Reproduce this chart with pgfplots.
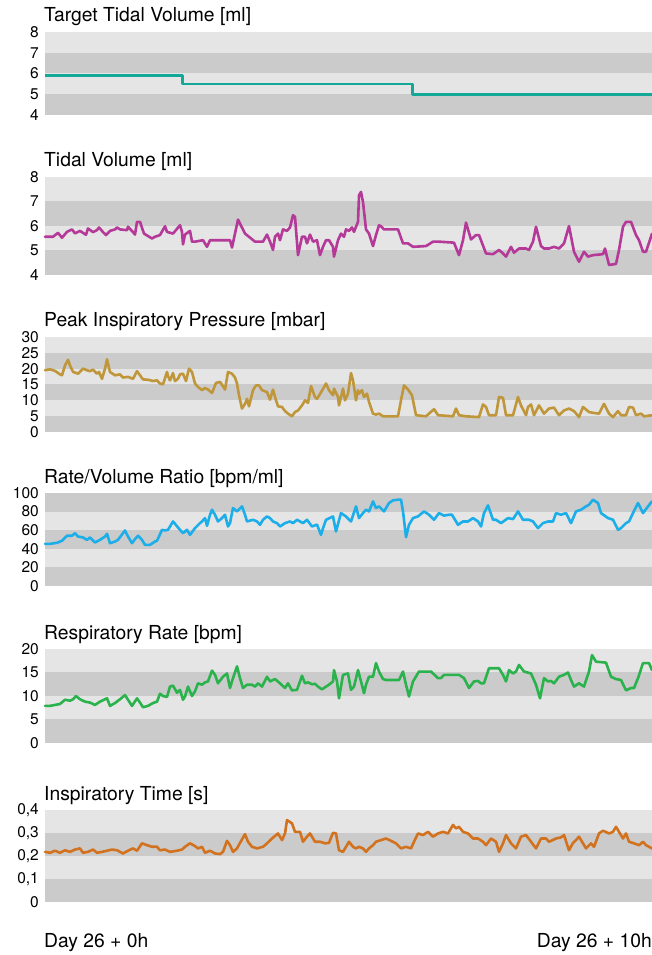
\documentclass[border=0pt]{standalone}
\usepackage{fontspec}
\setmainfont{TeX Gyre Heros}
\usepackage{pgfplots}
\pgfplotsset{compat=1.18}
\definecolor{bandL}{RGB}{229,229,229}
\definecolor{bandD}{RGB}{203,203,203}
\definecolor{cTeal}{RGB}{20,168,152}
\definecolor{cMag}{RGB}{181,57,152}
\definecolor{cGold}{RGB}{192,150,58}
\definecolor{cBlue}{RGB}{27,174,232}
\definecolor{cGreen}{RGB}{42,178,76}
\definecolor{cOrange}{RGB}{210,114,30}
\pgfplotsset{panel/.style={scale only axis, width=607pt, xmin=45, xmax=652,
  anchor=south west, axis line style={draw=none}, major tick length=0pt,
  xtick=\empty, tick label style={font=\fontsize{15.5}{17}\selectfont},
  yticklabel style={inner sep=0pt, xshift=-6pt},
  /pgf/number format/assume math mode=true, clip=false},
  series/.style={line width=2.6pt, line join=round, line cap=round}}
\begin{document}
\begin{tikzpicture}[x=1pt,y=1pt]
\tikzset{ttl/.style={anchor=base west, inner sep=0pt, font=\fontsize{19.3}{21}\selectfont}}
% ---------- Panel 1: Target Tidal Volume ----------
\begin{axis}[panel, at={(45pt,840pt)}, height=83pt, ymin=4, ymax=8, ytick={4,5,6,7,8}, yticklabels={4,5,6,7,8}]
\fill[bandD] (45,4) rectangle (652,5);
\fill[bandL] (45,5) rectangle (652,6);
\fill[bandD] (45,6) rectangle (652,7);
\fill[bandL] (45,7) rectangle (652,8);
\addplot[series, cTeal, line cap=butt] coordinates {(45,5.9) (182.7,5.9) (182.7,5.5) (412.7,5.5) (412.7,5.0) (652,5.0)};
\end{axis}
\node[ttl] at (44,933) {Target Tidal Volume [ml]};
% ---------- Panel 2: Tidal Volume ----------
\begin{axis}[panel, at={(45pt,680pt)}, height=98pt, ymin=4, ymax=8, ytick={4,5,6,7,8}, yticklabels={4,5,6,7,8}]
\fill[bandD] (45,4) rectangle (652,5);
\fill[bandL] (45,5) rectangle (652,6);
\fill[bandD] (45,6) rectangle (652,7);
\fill[bandL] (45,7) rectangle (652,8);
\addplot[series, cMag] coordinates {
(45,5.56) (53,5.56) (58,5.72) (62,5.52) (67,5.76) (72,5.86) (75,5.70) (80,5.80)
(86,5.64) (88,5.90) (93,5.75) (97,5.83) (99,5.94) (103,5.75) (106,5.63) (110,5.80)
(115,5.86) (117,5.94) (120,5.86) (127,5.83) (128,5.97) (133,5.75) (135,5.65) (137,6.17)
(140,6.17) (144,5.69) (152,5.49) (155,5.56) (160,5.63) (165,5.99) (167,5.76) (173,5.69)
(180,6.03) (182,5.76) (183,5.25) (185,5.65) (190,5.80) (192,5.36) (195,5.36) (203,5.42)
(207,5.15) (210,5.42) (230,5.42) (232,5.12) (238,6.26) (245,5.69) (255,5.36) (263,5.36)
(267,5.65) (270,5.36) (273,5.02) (275,5.56) (278,5.69) (280,5.42) (283,5.86) (287,5.80)
(290,5.94) (293,6.44) (295,6.37) (298,4.81) (302,5.56) (305,5.56) (307,5.29) (310,5.65)
(313,5.36) (317,5.42) (320,4.81) (323,5.15) (326,5.42) (329,5.42) (333,5.15) (334,4.75)
(338,5.42) (341,5.69) (344,5.56) (346,5.86) (349,5.80) (352,5.94) (354,5.76) (358,6.17)
(359,7.25) (361,7.39) (363,6.98) (366,5.86) (369,5.69) (373,5.18) (376,5.63) (379,6.03)
(381,5.99) (384,5.86) (398,5.86) (403,5.29) (408,5.29) (413,5.15) (426,5.18) (433,5.36)
(439,5.36) (454,5.32) (459,4.81) (463,5.42) (466,6.14) (471,5.45) (476,5.63) (479,5.63)
(486,4.88) (493,4.85) (499,5.02) (503,4.88) (506,4.75) (511,5.15) (514,4.91) (519,5.08)
(526,5.08) (529,5.02) (533,5.36) (536,5.97) (541,5.18) (544,5.08) (549,5.08) (554,5.15)
(559,5.08) (564,5.29) (569,6.00) (574,4.95) (579,4.54) (584,4.95) (588,4.75) (593,4.81)
(603,4.85) (605,5.08) (609,4.41) (616,4.45) (619,5.02) (623,5.97) (626,6.17) (631,6.17)
(636,5.63) (639,5.42) (643,4.95) (646,4.95) (652,5.69)};
\end{axis}
\node[ttl] at (44,788) {Tidal Volume [ml]};
% ---------- Panel 3: Peak Inspiratory Pressure ----------
\begin{axis}[panel, at={(45pt,523pt)}, height=95pt, ymin=0, ymax=30, ytick={0,5,10,15,20,25,30}, yticklabels={0,5,10,15,20,25,30}]
\fill[bandD] (45,0) rectangle (652,5);
\fill[bandL] (45,5) rectangle (652,10);
\fill[bandD] (45,10) rectangle (652,15);
\fill[bandL] (45,15) rectangle (652,20);
\fill[bandD] (45,20) rectangle (652,25);
\fill[bandL] (45,25) rectangle (652,30);
\addplot[series, cGold] coordinates {
(45,19.5) (50,19.8) (55,19.3) (60,18.2) (62,17.9) (65,21.0) (68,22.8) (70,21.0)
(73,19.0) (78,18.4) (83,20.0) (87,19.5) (90,19.2) (93,19.7) (97,18.4) (99,18.95)
(102,16.8) (105,20.0) (107,22.95) (110,18.95) (115,17.9) (120,18.2) (123,17.2) (128,17.4)
(133,16.8) (137,19.2) (140,17.9) (143,16.6) (148,16.5) (153,16.1) (157,16.3) (160,15.3)
(163,15.05) (167,18.95) (168,17.6) (170,16.3) (173,18.6) (175,16.1) (178,16.8) (180,18.2)
(183,18.4) (186,16.1) (189,20.0) (192,18.95) (195,15.3) (198,14.2) (202,13.2) (205,13.9)
(208,13.4) (212,12.3) (216,15.5) (220,15.8) (223,14.4) (225,13.4) (228,18.95) (232,18.4)
(235,17.2) (237,15.3) (239,11.6) (242,7.4) (245,8.9) (247,10.5) (249,8.1) (253,13.2)
(256,14.7) (259,14.7) (262,13.2) (267,12.6) (270,10.2) (273,13.4) (276,10.0) (278,8.1)
(282,7.9) (285,6.6) (288,5.8) (292,4.95) (295,6.3) (298,6.8) (302,8.4) (305,10)
(308,9.2) (311,14.5) (315,11.0) (317,10.5) (320,12.0) (325,14.7)
(326,15.3) (329,13.2) (333,11.6) (334,13.7) (338,11.05) (339,8.4) (343,13.7) (345,10.0)
(348,12.1) (351,18.6) (353,16.3) (356,10.0) (358,13.2) (359,12.1) (362,13.2) (364,11.05)
(367,12.1) (369,9.5) (373,5.8) (376,5.5) (379,5.8) (383,4.95) (398,4.95) (401,10)
(404,14.7) (408,13.4) (412,11.6) (416,5.3) (426,4.95) (429,5.8) (434,7.2) (438,5.3)
(453,4.95) (456,7.4) (459,5.3) (466,4.95) (479,4.7) (483,8.7) (486,7.9) (489,5.3)
(496,5.3) (499,11.05) (503,10.8) (506,5.3) (513,5.3) (518,11.05) (521,8.4) (526,5.3)
(528,7.9) (531,8.7) (534,5.3) (539,8.4) (544,5.8) (549,7.4) (554,7.7) (559,5.3)
(564,6.8) (569,7.4) (574,6.6) (579,4.7) (583,7.9) (589,6.3) (594,6.0) (599,5.8)
(604,8.9) (609,5.8) (613,4.7) (618,6.6) (621,5.3) (626,5.3) (629,7.9) (633,7.7)
(636,5.3) (641,5.8) (644,4.95) (652,5.3)};
\end{axis}
\node[ttl] at (44,628) {Peak Inspiratory Pressure [mbar]};
% ---------- Panel 4: Rate/Volume Ratio ----------
\begin{axis}[panel, at={(45pt,369pt)}, height=93pt, ymin=0, ymax=100, ytick={0,20,40,60,80,100}, yticklabels={0,20,40,60,80,100}]
\fill[bandD] (45,0) rectangle (652,20);
\fill[bandL] (45,20) rectangle (652,40);
\fill[bandD] (45,40) rectangle (652,60);
\fill[bandL] (45,60) rectangle (652,80);
\fill[bandD] (45,80) rectangle (652,100);
\addplot[series, cBlue] coordinates {
(45,45.3) (50,45.3) (57,46.5) (62,48.6) (67,54) (72,54) (75,56.8) (78,53.2)
(83,52.2) (87,49.6) (90,52.2) (95,46.8) (100,49.6) (105,53.2) (107,56.1) (110,46)
(115,47.8) (118,49.6) (125,59.7) (128,53.2) (132,46) (135,50.4) (138,54) (142,49.6)
(145,44.2) (150,44.2) (155,47.8) (157,48.6) (162,60.4) (165,59.7) (168,60.4) (172,67.6)
(173,69.4) (180,60.4) (183,56.8) (187,60.4) (190,55) (195,62.2) (200,67.6) (202,69.4)
(205,73) (207,64.7) (210,76.6) (212,82) (215,76.6) (218,69.4) (222,73) (225,76.6)
(228,64) (230,67.6) (233,83.8) (237,80.2) (242,85.6) (245,76.6) (247,69.4) (253,71.2)
(257,69.4) (260,65.8) (263,71.2) (267,74.8) (270,73) (273,69.4) (277,67.6) (280,64)
(285,67.6) (290,69.4) (293,67.6) (297,71.2) (303,67.6) (307,71.2) (312,64) (317,66)
(321,55) (323,62) (326,71.2) (333,74.8) (336,58.6) (341,78.4) (346,74.8) (351,69.4)
(356,85.6) (359,73) (363,78.4) (366,82) (369,80.2) (373,91) (376,83.8) (379,85.6)
(384,80.2) (389,89.2) (393,92.1) (398,92.8) (401,92.8) (403,80.2) (406,52.5) (409,65.8)
(413,73) (418,74.8) (424,80.2) (429,76.6) (434,71.2) (439,78.4) (444,75.7) (449,76.6)
(452,76.6) (458,65.8) (463,69.4) (468,69.4) (473,73) (478,69.4) (481,64) (484,78.4)
(488,86.7) (493,71.2) (496,71.2) (501,67.6) (508,73) (513,71.9) (518,80.2) (523,71.2)
(529,71.2) (533,69.4) (538,62.2) (543,67.6) (548,69.4) (553,69.4) (556,78.4) (561,76.6)
(566,78.4) (571,67.6) (576,80.2) (581,82) (586,85.6) (589,87.4) (593,92.8) (598,89.2)
(601,78.4) (608,73) (613,71.2) (618,60.4) (621,62.2) (626,67.6) (629,69.4) (633,78.4)
(638,89.2) (643,78.4) (648,85.6) (652,91)};
\end{axis}
\node[ttl] at (44,471) {Rate/Volume Ratio [bpm/ml]};
% ---------- Panel 5: Respiratory Rate ----------
\begin{axis}[panel, at={(45pt,212pt)}, height=94pt, ymin=0, ymax=20, ytick={0,5,10,15,20}, yticklabels={0,5,10,15,20}]
\fill[bandD] (45,0) rectangle (652,5);
\fill[bandL] (45,5) rectangle (652,10);
\fill[bandD] (45,10) rectangle (652,15);
\fill[bandL] (45,15) rectangle (652,20);
\addplot[series, cGreen] coordinates {
(45,7.9) (50,7.9) (55,8.1) (60,8.3) (65,9.2) (70,9.0) (73,9.3) (76,10.0)
(80,9.3) (85,8.8) (90,8.6) (95,8.1) (100,8.8) (105,9.3) (107,9.5) (110,7.9)
(115,8.5) (120,9.3) (125,10.2) (128,9.2) (132,7.9) (137,9.5) (140,8.6) (143,7.6)
(148,7.9) (153,8.5) (157,8.8) (160,10.5) (163,10.0) (167,9.8) (170,12.0) (173,12.2)
(177,10.7) (180,11.3) (183,9.2) (185,9.9) (188,12.0) (192,10.0) (195,11.0) (198,12.7)
(202,12.4) (205,12.9) (208,13.1) (212,15.4) (215,14.5) (218,12.7) (223,14.1) (227,14.8)
(230,11.7) (233,13.8) (237,16.3) (240,13.8) (243,11.7) (247,12.4) (252,12.4) (255,12.0)
(258,12.7) (262,12.0) (267,14.1) (270,13.1) (275,13.6) (280,12.7) (285,11.7) (288,12.7)
(292,11.2) (297,11.3) (302,14.3) (305,12.7) (308,12.9) (312,12.5) (315,12.6) (318,12.0)
(322,11.4) (326,12.0) (329,12.4) (333,13.1) (334,15.5) (337,13.1) (339,9.5) (343,14.5)
(348,14.8) (351,11.3) (354,12.0) (358,15.5) (361,13.1) (364,10.6) (366,12.4) (369,14.1)
(373,14.1) (376,17.0) (379,15.2) (383,13.6) (386,13.4) (399,13.4) (403,15.2) (406,12.4)
(409,9.9) (413,13.1) (419,15.2) (431,15.2) (438,13.8) (441,13.8) (444,14.5) (459,14.5)
(464,13.8) (469,11.7) (474,13.1) (478,13.2) (481,12.7) (484,12.7) (489,15.9) (499,15.9)
(503,14.5) (506,13.1) (509,15.5) (513,14.8) (516,15.2) (519,16.6) (524,15.2) (531,14.8)
(536,12.4) (540,9.5) (544,13.8) (548,13.1) (551,13.2) (554,12.7) (559,14.1) (564,14.5)
(568,15.0) (571,13.4) (574,12.0) (579,12.7) (584,12.0) (589,15.2) (592,18.7) (596,17.3)
(606,17.1) (611,14.1) (616,13.6) (621,13.4) (626,11.2) (631,11.7) (634,11.7) (638,13.8)
(643,17.0) (649,17.0) (652,15.5)};
\end{axis}
\node[ttl] at (44,315) {Respiratory Rate [bpm]};
% ---------- Panel 6: Inspiratory Time ----------
\begin{axis}[panel, at={(45pt,53pt)}, height=92pt, ymin=0, ymax=0.4, ytick={0,0.1,0.2,0.3,0.4}, yticklabels={0,{0,1},{0,2},{0,3},{0,4}}]
\fill[bandD] (45,0) rectangle (652,0.1);
\fill[bandL] (45,0.1) rectangle (652,0.2);
\fill[bandD] (45,0.2) rectangle (652,0.3);
\fill[bandL] (45,0.3) rectangle (652,0.4);
\addplot[series, cOrange] coordinates {
(45,0.218) (50,0.214) (55,0.223) (60,0.214) (65,0.225) (70,0.218) (75,0.228) (80,0.233)
(83,0.214) (88,0.218) (93,0.228) (97,0.214) (102,0.218) (107,0.223) (112,0.228) (117,0.225)
(123,0.211) (128,0.223) (133,0.233) (137,0.223) (142,0.255) (147,0.247) (152,0.240) (157,0.240)
(160,0.225) (165,0.228) (170,0.218) (177,0.223) (182,0.228) (185,0.240) (190,0.255) (195,0.243)
(198,0.233) (202,0.240) (205,0.214) (210,0.223) (215,0.211) (220,0.208) (223,0.218) (227,0.266)
(230,0.247) (233,0.218) (237,0.233) (240,0.257) (245,0.295) (248,0.262) (252,0.240) (257,0.233)
(263,0.240) (267,0.255) (272,0.276) (278,0.298) (282,0.269) (285,0.298) (287,0.356) (292,0.342)
(295,0.305) (300,0.305) (303,0.262) (307,0.284) (310,0.298) (315,0.262) (320,0.262) (325,0.255)
(329,0.257) (333,0.301) (336,0.298) (339,0.225) (343,0.218) (346,0.240) (349,0.262) (353,0.240)
(356,0.233) (359,0.240) (363,0.233) (366,0.218) (369,0.233) (373,0.247) (376,0.262) (381,0.269)
(386,0.276) (391,0.266) (396,0.255) (401,0.233) (406,0.240) (411,0.233) (414,0.262) (418,0.298)
(423,0.291) (428,0.305) (433,0.284) (438,0.298) (443,0.305) (448,0.298) (453,0.335) (456,0.320)
(459,0.327) (463,0.305) (468,0.298) (473,0.276) (478,0.276) (483,0.262) (486,0.247) (491,0.276)
(496,0.262) (499,0.218) (503,0.255) (506,0.291) (511,0.255) (516,0.233) (521,0.284) (526,0.291)
(531,0.262) (536,0.233) (541,0.276) (546,0.276) (549,0.262) (556,0.276) (561,0.281) (564,0.291)
(569,0.225) (573,0.257) (576,0.269) (579,0.284) (583,0.255) (586,0.233) (591,0.255) (594,0.240)
(599,0.298) (603,0.310) (609,0.298) (613,0.305) (616,0.327) (619,0.305) (623,0.276) (626,0.298)
(629,0.262) (634,0.255) (639,0.247) (643,0.262) (646,0.247) (649,0.240) (652,0.233)};
\end{axis}
\node[ttl] at (44,154) {Inspiratory Time [s]};
% ---------- x labels ----------
\node[ttl] at (44,7) {Day 26 + 0h};
\node[ttl, anchor=base east] at (652,7) {Day 26 + 10h};
\pgfresetboundingbox
\path[use as bounding box] (0,0) rectangle (652,955);
\end{tikzpicture}
\end{document}
